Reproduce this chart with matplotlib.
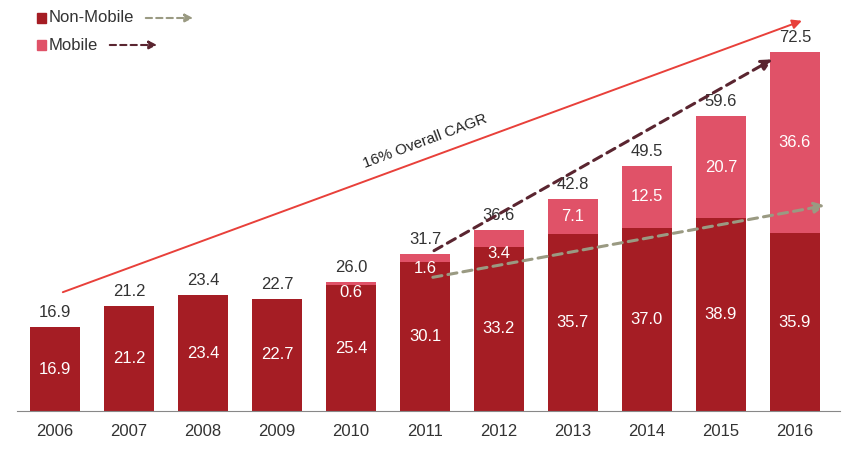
import matplotlib.pyplot as plt
from matplotlib.patches import FancyArrowPatch, Rectangle

plt.rcParams['font.family'] = ['Liberation Sans', 'DejaVu Sans']

years = ['2006', '2007', '2008', '2009', '2010', '2011', '2012', '2013', '2014', '2015', '2016']
non_mobile = [16.9, 21.2, 23.4, 22.7, 25.4, 30.1, 33.2, 35.7, 37.0, 38.9, 35.9]
mobile = [0, 0, 0, 0, 0.6, 1.6, 3.4, 7.1, 12.5, 20.7, 36.6]
totals = [16.9, 21.2, 23.4, 22.7, 26.0, 31.7, 36.6, 42.8, 49.5, 59.6, 72.5]

dark_red = '#A51D24'
pink = '#E05268'
txt = '#333333'
fs = 12

fig = plt.figure(figsize=(8.56, 4.5), dpi=100)
ax = fig.add_axes([17 / 856, 39 / 450, 823 / 856, 411 / 450])

x = list(range(len(years)))
ax.bar(x, non_mobile, width=0.68, color=dark_red)
ax.bar(x, mobile, width=0.68, bottom=non_mobile, color=pink)

for i in x:
    ax.text(i, non_mobile[i] / 2, f'{non_mobile[i]:.1f}', ha='center', va='center',
            color='white', fontsize=fs)
    ax.annotate(f'{totals[i]:.1f}', (i, totals[i]), xytext=(0, 5), textcoords='offset points',
                ha='center', va='bottom', color=txt, fontsize=fs)
    if mobile[i] > 0:
        if mobile[i] < 5:
            ax.annotate(f'{mobile[i]:.1f}', (i, non_mobile[i]), xytext=(0, -5),
                        textcoords='offset points', ha='center', va='center',
                        color='white', fontsize=fs)
        else:
            ax.text(i, non_mobile[i] + mobile[i] / 2, f'{mobile[i]:.1f}', ha='center',
                    va='center', color='white', fontsize=fs)

# trend arrows
ax.annotate('', xy=(10.13, 79.0), xytext=(0.07, 23.8),
            arrowprops=dict(arrowstyle='-|>', color='#E8403A', lw=1.4, mutation_scale=14))
ax.text(5.0, 54.5, '16% Overall CAGR', rotation=20.5, ha='center', va='center',
        color='#222222', fontsize=11)
ax.annotate('', xy=(9.73, 71.3), xytext=(5.09, 32.1),
            arrowprops=dict(arrowstyle='-|>', color='#5A2530', lw=2.2, ls=(0, (3, 2)),
                            mutation_scale=16))
ax.annotate('', xy=(10.45, 41.6), xytext=(5.07, 26.9),
            arrowprops=dict(arrowstyle='-|>', color='#9A9A82', lw=2.2, ls=(0, (3, 2)),
                            mutation_scale=16))

ax.set_xlim(-0.514, 10.61)
ax.set_ylim(0, 83)
ax.set_xticks(x)
ax.set_xticklabels(years, fontsize=fs, color=txt)
ax.tick_params(length=0, pad=9)
ax.set_yticks([])
for s in ['top', 'left', 'right']:
    ax.spines[s].set_visible(False)
ax.spines['bottom'].set_color('#888888')

# legend
W, H = 856, 450
for yy, col, lab, ax0, ax1, acol in [(18, dark_red, 'Non-Mobile', 143, 196, '#9A9A82'),
                                     (45, pink, 'Mobile', 107, 160, '#5A2530')]:
    fig.patches.append(Rectangle((37 / W, 1 - (yy + 4.5) / H), 9 / W, 9 / H,
                                 transform=fig.transFigure, color=col))
    fig.text(49 / W, 1 - yy / H, lab, color=txt, fontsize=fs, va='center')
    fig.patches.append(FancyArrowPatch((ax0 / W, 1 - yy / H), (ax1 / W, 1 - yy / H),
                                       transform=fig.transFigure, arrowstyle='-|>', color=acol,
                                       lw=1.5, ls=(0, (3, 2)), mutation_scale=12))

fig.savefig('out.png', dpi=100)
